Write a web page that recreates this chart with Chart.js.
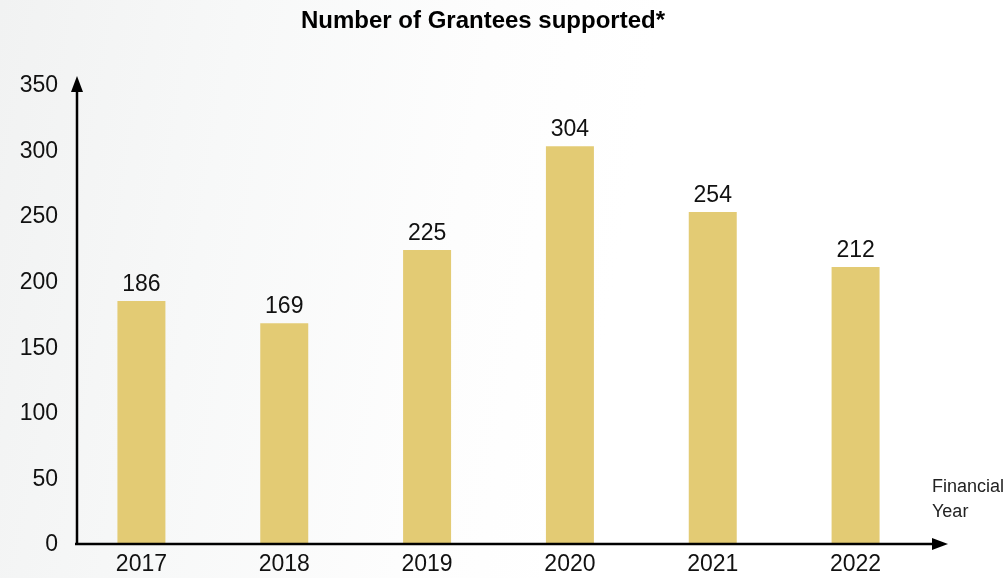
<!DOCTYPE html>
<html>
<head>
<meta charset="utf-8">
<script src="https://cdn.jsdelivr.net/npm/chart.js@4.4.1/dist/chart.umd.min.js"></script>
<style>
  html, body { margin: 0; padding: 0; }
  body { width: 1005px; height: 578px; background: linear-gradient(100deg, #f1f2f2 0%, #f7f8f8 22%, #fdfdfd 45%, #ffffff 60%); }
  #myChart { display: block; }
</style>
</head>
<body>
<canvas id="myChart" width="1005" height="578"></canvas>
<script>
const years = ['2017', '2018', '2019', '2020', '2021', '2022'];
const grantees = [186, 169, 225, 304, 254, 212];
const yTicks = [0, 50, 100, 150, 200, 250, 300, 350];

const fontFamily = '"Liberation Sans", Arial, Helvetica, sans-serif';

// title, axes with arrows, value labels and "Financial Year"
const decor = {
  id: 'decor',
  afterDatasetsDraw(chart) {
    const ctx = chart.ctx;
    const area = chart.chartArea;
    const meta = chart.getDatasetMeta(0);
    ctx.save();

    ctx.fillStyle = '#000';
    ctx.font = 'bold 24px ' + fontFamily;
    ctx.textAlign = 'center';
    ctx.textBaseline = 'middle';
    ctx.fillText('Number of Grantees supported*', 483, 21);

    ctx.fillStyle = '#111';
    ctx.font = '23px ' + fontFamily;
    ctx.textBaseline = 'alphabetic';
    meta.data.forEach(function (bar, i) {
      ctx.fillText(String(grantees[i]), bar.x, bar.y - 10);
    });

    // axis lines
    const x0 = area.left + 7;
    const y0 = area.bottom - 1;
    ctx.strokeStyle = '#000';
    ctx.fillStyle = '#000';
    ctx.lineWidth = 2.5;
    ctx.beginPath();
    ctx.moveTo(x0, y0 + 1);
    ctx.lineTo(x0, area.top - 2);
    ctx.moveTo(x0 - 2, y0);
    ctx.lineTo(area.right + 10, y0);
    ctx.stroke();
    // y arrow
    ctx.beginPath();
    ctx.moveTo(x0, area.top - 10);
    ctx.lineTo(x0 - 6, area.top + 6);
    ctx.lineTo(x0 + 6, area.top + 6);
    ctx.closePath();
    ctx.fill();
    // x arrow
    const tip = area.right + 21;
    ctx.beginPath();
    ctx.moveTo(tip, y0);
    ctx.lineTo(tip - 16, y0 - 6);
    ctx.lineTo(tip - 16, y0 + 6);
    ctx.closePath();
    ctx.fill();

    ctx.fillStyle = '#222';
    ctx.font = '18px ' + fontFamily;
    ctx.textAlign = 'left';
    ctx.textBaseline = 'middle';
    ctx.fillText('Financial', 932, 487);
    ctx.fillText('Year', 932, 512);
    ctx.restore();
  }
};

const data = {
  labels: years,
  datasets: [{
    label: 'Number of Grantees supported',
    data: grantees,
    backgroundColor: '#e3cb74',
    borderWidth: 0,
    barPercentage: 0.336,
    categoryPercentage: 1
  }]
};

const config = {
  type: 'bar',
  data,
  options: {
    responsive: false,
    animation: false,
    layout: { padding: { left: 0, right: 78, top: 86, bottom: 0 } },
    plugins: {
      legend: { display: false },
      tooltip: { enabled: false },
      title: { display: false }
    },
    scales: {
      x: {
        grid: { display: false, drawTicks: false },
        border: { display: false },
        ticks: { color: '#111', font: { family: fontFamily, size: 23 }, padding: 6 },
        afterFit(scale) { scale.height = 33; }
      },
      y: {
        min: 0,
        max: 350,
        grid: { display: false, drawTicks: false },
        border: { display: false },
        afterBuildTicks(scale) { scale.ticks = yTicks.map(v => ({ value: v })); },
        ticks: { color: '#111', font: { family: fontFamily, size: 23 }, padding: 12 },
        afterFit(scale) { scale.width = 70; }
      }
    }
  },
  plugins: [decor]
};

const myChart = new Chart(document.getElementById('myChart'), config);
</script>
</body>
</html>
